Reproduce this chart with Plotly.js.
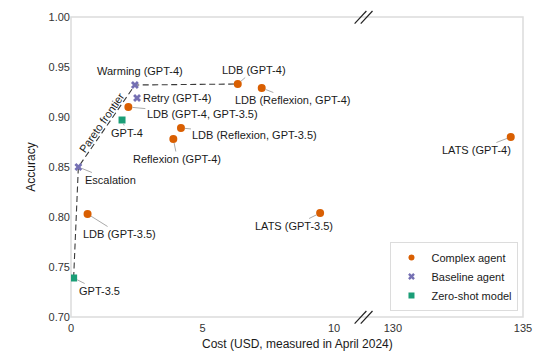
<!DOCTYPE html>
<html>
<head>
<meta charset="utf-8">
<script src="https://cdn.plot.ly/plotly-3.0.1.min.js"></script>
<style>html,body{margin:0;padding:0;background:#fff;}#chart{width:541px;height:357px;}</style>
</head>
<body>
<div id="chart"></div>
<script>
// ---- Data ----
const complexNames = ['LDB (GPT-4)', 'LDB (Reflexion, GPT-4)', 'LDB (GPT-4, GPT-3.5)', 'LDB (Reflexion, GPT-3.5)', 'Reflexion (GPT-4)', 'LDB (GPT-3.5)', 'LATS (GPT-3.5)', 'LATS (GPT-4)'];
const complexCost = [6.34, 7.25, 2.18, 4.18, 3.89, 0.63, 9.47, 134.53];
const complexAcc = [0.933, 0.929, 0.910, 0.889, 0.878, 0.803, 0.804, 0.880];

const baselineNames = ['Warming (GPT-4)', 'Retry (GPT-4)', 'Escalation'];
const baselineCost = [2.43, 2.51, 0.28];
const baselineAcc = [0.932, 0.919, 0.850];

const zeroNames = ['GPT-4', 'GPT-3.5'];
const zeroCost = [1.94, 0.10];
const zeroAcc = [0.897, 0.739];

const paretoNames = ['GPT-3.5', 'Escalation', 'Warming (GPT-4)', 'LDB (GPT-4)'];

const xTicksLeft = [0, 5, 10];
const xTicksRight = [130, 135];
const yTicks = [0.70, 0.75, 0.80, 0.85, 0.90, 0.95, 1.00];

// ---- Label placement (pixel offsets of label centre from point) ----
const labelOffsets = {
  'Warming (GPT-4)': [5, -14, false],
  'Retry (GPT-4)': [40, 0, false],
  'Escalation': [32, 13, true],
  'GPT-4': [5, 13, true],
  'GPT-3.5': [26, 13, true],
  'LDB (GPT-4)': [16, -14, true],
  'LDB (Reflexion, GPT-4)': [31, 12, true],
  'LDB (GPT-4, GPT-3.5)': [74, 7, true],
  'LDB (Reflexion, GPT-3.5)': [74, 7, true],
  'Reflexion (GPT-4)': [4, 20, true],
  'LDB (GPT-3.5)': [32, 20, true],
  'LATS (GPT-3.5)': [-26, 13, true],
  'LATS (GPT-4)': [-34, 13, true]
};

const BREAK = 100; // costs above this sit on the right-hand axis segment
const COL_COMPLEX = '#d95f02', COL_BASE = '#7570b3', COL_ZERO = '#1b9e77';
const FONT = 'Liberation Sans, Arial, sans-serif';

function split(names, cost, acc) {
  const L = {n: [], x: [], y: []}, R = {n: [], x: [], y: []};
  names.forEach((n, i) => {
    const t = cost[i] > BREAK ? R : L;
    t.n.push(n); t.x.push(cost[i]); t.y.push(acc[i]);
  });
  return [L, R];
}

const all = {};
complexNames.forEach((n, i) => all[n] = [complexCost[i], complexAcc[i]]);
baselineNames.forEach((n, i) => all[n] = [baselineCost[i], baselineAcc[i]]);
zeroNames.forEach((n, i) => all[n] = [zeroCost[i], zeroAcc[i]]);

const traces = [];
// Pareto frontier
traces.push({
  x: paretoNames.map(n => all[n][0]), y: paretoNames.map(n => all[n][1]),
  xaxis: 'x', yaxis: 'y', mode: 'lines', showlegend: false, hoverinfo: 'skip',
  line: {color: '#3a3a3a', width: 1.1, dash: '6px,3.5px'}
});

function addGroup(names, cost, acc, color, symbol, size, legendName) {
  const [L, R] = split(names, cost, acc);
  if (L.x.length) traces.push({x: L.x, y: L.y, text: L.n, xaxis: 'x', yaxis: 'y', mode: 'markers', showlegend: false,
    marker: {color: color, symbol: symbol, size: size}});
  if (R.x.length) traces.push({x: R.x, y: R.y, text: R.n, xaxis: 'x2', yaxis: 'y', mode: 'markers', showlegend: false,
    marker: {color: color, symbol: symbol, size: size}});
  // legend entry
  traces.push({x: [null], y: [null], xaxis: 'x', yaxis: 'y', mode: 'markers', name: legendName, showlegend: true,
    marker: {color: color, symbol: symbol, size: 6}});
}
addGroup(complexNames, complexCost, complexAcc, COL_COMPLEX, 'circle', 8, 'Complex agent');
addGroup(baselineNames, baselineCost, baselineAcc, COL_BASE, 'x', 7, 'Baseline agent');
addGroup(zeroNames, zeroCost, zeroAcc, COL_ZERO, 'square', 7, 'Zero-shot model');

const annotations = Object.keys(all).map(n => {
  const [c, a] = all[n];
  const off = labelOffsets[n];
  return {
    x: c, y: a, xref: c > BREAK ? 'x2' : 'x', yref: 'y', text: n,
    showarrow: true, arrowhead: 0, arrowwidth: 1, arrowcolor: off[2] ? '#aaaaaa' : 'rgba(0,0,0,0)',
    ax: off[0], ay: off[1], standoff: 4,
    font: {family: FONT, size: 11, color: '#1a1a1a'}
  };
});
annotations.push({
  x: 1.16, y: 0.894, xref: 'x', yref: 'y', text: 'Pareto frontier', showarrow: false,
  textangle: -55, font: {family: FONT, size: 11, color: '#1a1a1a'}
});

const split1 = 0.646;
const breakLine = {color: '#222', width: 1.2};
const shapes = [
  {type: 'rect', xref: 'paper', yref: 'paper', x0: 0, x1: 1, y0: 0, y1: 1, line: {color: '#dcdcdc', width: 1.5}, layer: 'below'},
];
[-0.006, 0.0075].forEach(dx => {
  shapes.push({type: 'line', xref: 'paper', yref: 'paper', x0: split1 + dx - 0.0125, x1: split1 + dx + 0.0135, y0: 0.978, y1: 1.02, line: breakLine});
  shapes.push({type: 'line', xref: 'paper', yref: 'paper', x0: split1 + dx - 0.0125, x1: split1 + dx + 0.0135, y0: -0.022, y1: 0.02, line: breakLine});
});

const tickFont = {family: FONT, size: 11, color: '#333'};
const layout = {
  width: 541, height: 357,
  margin: {l: 71, r: 18, t: 17, b: 40},
  paper_bgcolor: '#fff', plot_bgcolor: '#fff',
  showlegend: true,
  xaxis: {domain: [0, split1], range: [0, 11.1], tickvals: xTicksLeft, ticktext: xTicksLeft.map(String),
    showgrid: false, zeroline: false, showline: false, ticks: '', tickfont: tickFont, anchor: 'y', ticklabelstandoff: 3},
  xaxis2: {domain: [split1, 1], range: [128.85, 135], tickvals: xTicksRight, ticktext: xTicksRight.map(String),
    showgrid: false, zeroline: false, showline: false, ticks: '', tickfont: tickFont, anchor: 'y', ticklabelstandoff: 3},
  yaxis: {range: [0.70, 1.00], tickvals: yTicks, ticktext: yTicks.map(v => v.toFixed(2)),
    showgrid: false, zeroline: false, showline: false, ticks: '', tickfont: tickFont,
    title: {text: 'Accuracy', font: {family: FONT, size: 12, color: '#1a1a1a'}, standoff: 10}},
  annotations: annotations.concat([{
    xref: 'paper', yref: 'paper', x: 0.5, y: -0.09, yanchor: 'middle', showarrow: false,
    text: 'Cost (USD, measured in April 2024)', font: {family: FONT, size: 12, color: '#1a1a1a'}
  }]),
  shapes: shapes,
  legend: {x: 0.99, y: 0.02, xanchor: 'right', yanchor: 'bottom', bgcolor: '#fff', bordercolor: '#dcdcdc', borderwidth: 1,
    font: {family: FONT, size: 11, color: '#1a1a1a'}, tracegroupgap: 0}
};

Plotly.newPlot('chart', traces, layout, {displayModeBar: false, staticPlot: true});
</script>
</body>
</html>
